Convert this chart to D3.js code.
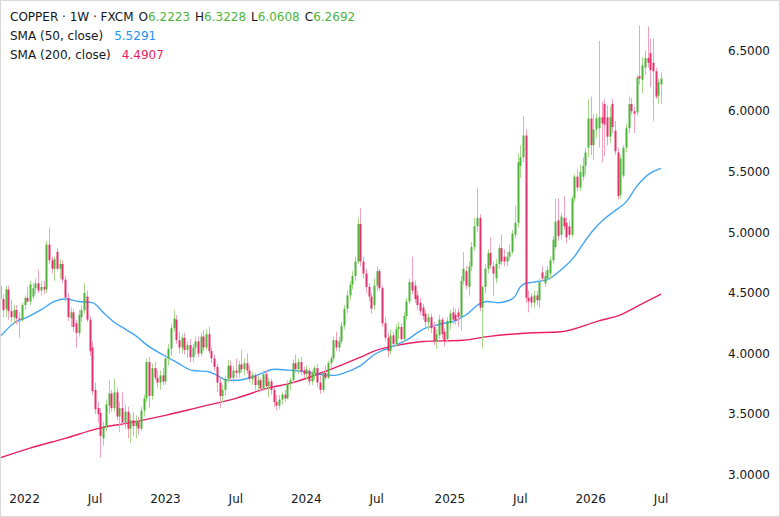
<!DOCTYPE html>
<html><head><meta charset="utf-8">
<script src="https://cdn.jsdelivr.net/npm/d3@7"></script>
<style>body{margin:0;background:#fff}svg{display:block}text{font-family:"DejaVu Sans",sans-serif}</style>
</head><body><svg id="c" width="780" height="517"></svg>
<script>
// ---- DATA ----
const startDate = "2021-11-01"; // first weekly bar (Mondays)
const opens = [4.56,4.45,4.37,4.53,4.35,4.30,4.36,4.29,4.28,4.40,4.46,4.43,4.47,4.54,4.58,4.52,4.55,4.53,4.90,4.77,
4.70,4.84,4.70,4.74,4.61,4.46,4.29,4.34,4.25,4.17,4.30,4.36,4.47,4.28,4.05,3.70,3.55,3.51,3.30,3.40,
3.57,3.67,3.55,3.68,3.48,3.55,3.43,3.52,3.38,3.45,3.40,3.44,3.38,3.53,3.63,3.93,3.65,3.88,3.80,3.76,
3.82,3.77,3.96,4.04,4.21,4.28,4.11,4.05,4.13,4.03,4.07,3.97,4.05,4.10,4.00,4.14,4.05,4.16,4.02,3.96,
3.89,3.76,3.65,3.70,3.79,3.90,3.80,3.86,3.84,3.91,3.87,3.92,3.86,3.79,3.82,3.74,3.78,3.71,3.83,3.73,
3.77,3.70,3.60,3.57,3.62,3.66,3.63,3.75,3.78,3.92,3.87,3.93,3.86,3.83,3.86,3.77,3.84,3.88,3.76,3.70,
3.84,3.80,3.92,3.96,4.11,4.05,4.10,4.23,4.37,4.48,4.57,4.64,4.76,5.07,4.76,4.66,4.55,4.47,4.40,4.56,
4.68,4.54,4.25,4.13,4.02,4.15,4.08,4.20,4.22,4.12,4.31,4.43,4.59,4.56,4.48,4.42,4.38,4.33,4.26,4.30,
4.22,4.10,4.15,4.28,4.18,4.12,4.25,4.34,4.32,4.34,4.30,4.60,4.68,4.55,4.72,4.88,5.05,5.12,4.38,4.55,
4.70,4.83,4.72,4.62,4.74,4.87,4.80,4.76,4.80,4.84,4.98,5.08,5.55,5.62,5.80,4.46,4.47,4.42,4.48,4.44,
4.67,4.58,4.62,4.66,4.77,4.88,5.10,4.98,5.12,5.08,5.05,4.98,5.28,5.46,5.37,5.46,5.55,5.70,5.94,5.72,
5.85,5.86,5.95,6.06,5.95,5.79,6.06,5.84,5.66,5.31,5.47,5.70,5.86,6.06,6.00,5.99,6.29,6.26,6.36,6.44,
6.48,6.40,6.33,6.13,6.2223];
const highs = [4.60,4.49,4.56,4.56,4.44,4.40,4.40,4.34,4.42,4.48,4.55,4.60,4.58,4.62,4.69,4.60,4.60,4.93,5.04,4.80,
4.80,4.87,4.78,4.77,4.64,4.50,4.38,4.37,4.28,4.36,4.40,4.58,4.52,4.31,4.10,3.76,3.60,3.55,3.44,3.62,
3.78,3.70,3.79,3.72,3.60,3.68,3.58,3.56,3.50,3.52,3.49,3.48,3.56,3.66,3.96,3.97,3.92,3.93,3.86,3.86,
3.88,4.00,4.08,4.24,4.36,4.32,4.18,4.16,4.17,4.10,4.12,4.08,4.14,4.14,4.17,4.19,4.20,4.22,4.05,3.99,
3.92,3.80,3.74,3.82,3.95,3.94,3.90,3.96,3.94,4.03,3.96,4.00,3.90,3.85,3.84,3.82,3.80,3.86,3.86,3.80,
3.79,3.72,3.66,3.66,3.68,3.70,3.78,3.80,3.95,3.99,3.96,3.97,3.89,3.90,3.88,3.86,3.90,3.91,3.82,3.86,
3.90,3.94,3.98,4.14,4.18,4.14,4.26,4.40,4.52,4.60,4.68,4.80,5.12,5.20,4.80,4.70,4.58,4.50,4.62,4.72,
4.70,4.56,4.30,4.17,4.20,4.18,4.24,4.26,4.25,4.34,4.46,4.62,4.80,4.60,4.52,4.46,4.41,4.36,4.33,4.33,
4.26,4.20,4.32,4.30,4.21,4.30,4.36,4.38,4.37,4.38,4.64,4.84,4.72,4.76,4.92,5.12,5.37,5.15,4.56,4.74,
4.86,4.96,4.76,4.78,4.90,4.98,4.86,4.84,4.90,5.02,5.22,5.65,5.72,5.96,5.85,4.52,4.50,4.52,4.52,4.62,
4.72,4.68,4.72,4.80,4.97,5.28,5.28,5.16,5.30,5.12,5.10,5.30,5.48,5.52,5.56,5.62,5.70,6.10,6.12,5.98,
5.98,6.58,6.08,6.10,6.05,6.04,6.10,5.92,5.70,5.64,5.72,5.90,6.12,6.11,6.04,6.30,6.71,6.45,6.50,6.70,
6.60,6.60,6.36,6.27,6.3228];
const lows = [4.42,4.30,4.30,4.28,4.26,4.25,4.24,4.13,4.26,4.36,4.42,4.40,4.45,4.49,4.50,4.48,4.49,4.50,4.74,4.66,
4.60,4.68,4.62,4.58,4.43,4.27,4.22,4.18,4.05,4.14,4.26,4.33,4.26,3.98,3.66,3.50,3.43,3.14,3.24,3.36,
3.50,3.52,3.52,3.45,3.35,3.40,3.38,3.30,3.26,3.32,3.30,3.33,3.36,3.48,3.60,3.55,3.62,3.78,3.72,3.70,
3.74,3.74,3.90,3.98,4.18,4.08,4.00,4.00,3.99,3.96,3.93,3.93,3.99,3.97,3.98,4.02,4.03,4.00,3.92,3.86,
3.68,3.55,3.60,3.65,3.76,3.78,3.76,3.80,3.80,3.84,3.82,3.83,3.76,3.74,3.70,3.70,3.68,3.69,3.70,3.64,
3.66,3.56,3.53,3.54,3.58,3.60,3.62,3.70,3.76,3.84,3.83,3.82,3.80,3.78,3.74,3.74,3.78,3.72,3.67,3.68,
3.78,3.79,3.88,3.94,4.02,4.01,4.08,4.20,4.33,4.44,4.53,4.60,4.74,4.72,4.62,4.50,4.43,4.33,4.36,4.52,
4.52,4.22,4.10,3.97,3.99,4.05,4.06,4.12,4.10,4.10,4.28,4.41,4.49,4.42,4.36,4.32,4.28,4.22,4.19,4.17,
4.07,4.04,4.12,4.12,4.06,4.10,4.20,4.24,4.24,4.22,4.19,4.57,4.53,4.47,4.68,4.85,5.00,4.35,4.04,4.50,
4.66,4.70,4.48,4.58,4.70,4.73,4.72,4.72,4.77,4.82,4.95,5.04,5.45,5.58,4.42,4.34,4.38,4.38,4.40,4.38,
4.60,4.55,4.60,4.62,4.74,4.86,4.93,4.94,5.02,4.91,4.94,4.96,5.25,5.34,5.34,5.43,5.48,5.62,5.64,5.60,
5.78,5.70,5.58,5.63,5.72,5.74,5.82,5.64,5.27,5.28,5.45,5.66,5.82,5.97,5.82,5.96,6.22,6.15,6.30,6.36,
6.20,5.92,6.10,6.06,6.0608];
const closes = [4.45,4.36,4.53,4.35,4.30,4.36,4.29,4.28,4.40,4.46,4.43,4.57,4.54,4.58,4.52,4.55,4.53,4.90,4.77,4.70,
4.78,4.70,4.74,4.61,4.46,4.30,4.34,4.22,4.17,4.32,4.36,4.50,4.28,4.02,3.69,3.54,3.50,3.32,3.40,3.58,
3.67,3.55,3.68,3.48,3.55,3.43,3.52,3.38,3.45,3.40,3.44,3.38,3.53,3.63,3.93,3.65,3.88,3.80,3.76,3.82,
3.77,3.96,4.04,4.21,4.29,4.11,4.05,4.13,4.03,4.07,3.97,4.05,4.10,4.00,4.14,4.05,4.16,4.02,3.96,3.89,
3.76,3.65,3.70,3.79,3.90,3.80,3.86,3.84,3.91,3.87,3.92,3.86,3.79,3.82,3.74,3.78,3.71,3.83,3.73,3.77,
3.70,3.60,3.57,3.62,3.66,3.63,3.75,3.78,3.92,3.87,3.93,3.85,3.83,3.87,3.77,3.84,3.88,3.76,3.70,3.84,
3.80,3.92,3.96,4.11,4.05,4.10,4.23,4.37,4.48,4.57,4.64,4.76,5.07,4.76,4.66,4.55,4.47,4.37,4.56,4.68,
4.54,4.25,4.13,4.02,4.15,4.08,4.20,4.22,4.12,4.31,4.43,4.59,4.52,4.45,4.40,4.35,4.31,4.26,4.30,4.21,
4.10,4.16,4.28,4.16,4.10,4.27,4.33,4.28,4.27,4.30,4.60,4.70,4.56,4.72,4.88,5.05,5.12,4.38,4.55,4.70,
4.83,4.73,4.66,4.74,4.87,4.76,4.76,4.80,4.84,4.99,5.08,5.58,5.62,5.80,4.46,4.43,4.42,4.48,4.44,4.59,
4.62,4.64,4.69,4.77,4.94,5.09,4.97,5.13,5.05,4.96,4.98,5.28,5.46,5.37,5.50,5.55,5.66,5.94,5.72,5.85,
5.94,5.95,5.90,5.89,5.79,5.95,5.87,5.67,5.30,5.61,5.70,5.86,6.06,6.00,5.98,6.28,6.27,6.38,6.44,6.40,
6.34,6.33,6.12,6.24,6.2692];
// moving averages (bar index -> value)
const sma50Bars = [0,5,10,15,20,24,29,34,38,42,47,51,53,60,65,71,77,80,84,88,92,97,101,108,113,117,123,127,133,138,144,150,156,162,169,172,177,180,184,188,190,192,194,197,202,207,212,215,219,223,227,231,235,240,244];
const sma50Vals = [4.14,4.25,4.30,4.36,4.43,4.45,4.43,4.42,4.34,4.26,4.19,4.13,4.09,3.99,3.93,3.86,3.85,3.82,3.78,3.78,3.80,3.84,3.87,3.86,3.85,3.83,3.82,3.84,3.90,3.99,4.05,4.11,4.20,4.24,4.28,4.32,4.41,4.43,4.42,4.44,4.47,4.55,4.58,4.59,4.61,4.69,4.80,4.90,5.02,5.11,5.18,5.25,5.38,5.49,5.5291];
const sma200Bars = [0,11,24,36,48,61,74,87,98,108,122,133,138,147,156,171,180,195,207,221,229,236,244];
const sma200Vals = [3.14,3.22,3.30,3.38,3.43,3.49,3.56,3.63,3.71,3.76,3.87,3.97,4.02,4.07,4.10,4.11,4.14,4.17,4.18,4.27,4.32,4.40,4.4907];
const priceTicks = [3.0,3.5,4.0,4.5,5.0,5.5,6.0,6.5];
const timeTickMonths = ["2022-01","2022-07","2023-01","2023-07","2024-01","2024-07","2025-01","2025-07","2026-01","2026-07"];
const timeTickLabels = ["2022","Jul","2023","Jul","2024","Jul","2025","Jul","2026","Jul"];
const legendTitle = "COPPER · 1W · FXCM";
const legendSma50 = "SMA (50, close)";
const legendSma200 = "SMA (200, close)";

// ---- DRAW ----
const W = 780, H = 517;
const GREEN = "#4fb53a", GREEN_W = "#a6d98c", PINK = "#e8306c", PINK_W = "#f3a2bd";
const BLUE = "#42a5f5", MAGENTA = "#e91e63", TXT = "#131722";
const n = closes.length;
const bars = d3.range(n).map(i => ({i, o: opens[i], h: highs[i], l: lows[i], c: closes[i],
  d: d3.timeWeek.offset(d3.timeParse("%Y-%m-%d")(startDate), i)}));
const svg = d3.select("#c");
svg.append("rect").attr("x", 0.5).attr("y", 0.5).attr("width", W - 1).attr("height", H - 1)
  .attr("fill", "#fff").attr("stroke", "#d9d9d9");
svg.append("defs").append("clipPath").attr("id", "clip").append("rect")
  .attr("x", 1).attr("y", 1).attr("width", 700).attr("height", 480);

const x = d3.scaleLinear().domain([0, n - 1]).range([0.2, 661.1]);
const y = d3.scaleLinear().domain([3.0, 6.5]).range([474.7, 50.7]);

const plot = svg.append("g").attr("clip-path", "url(#clip)");
const line = d3.line().x(d => x(d[0])).y(d => y(d[1])).curve(d3.curveMonotoneX);
plot.append("path").datum(sma200Bars.map((b, k) => [b, sma200Vals[k]]))
  .attr("d", line).attr("fill", "none").attr("stroke", MAGENTA).attr("stroke-width", 1.4);
plot.append("path").datum(sma50Bars.map((b, k) => [b, sma50Vals[k]]))
  .attr("d", line).attr("fill", "none").attr("stroke", BLUE).attr("stroke-width", 1.4);

const cg = plot.append("g");
cg.selectAll("line.w").data(bars).join("line").attr("class", "w")
  .attr("x1", d => Math.round(x(d.i)) + 0.5).attr("x2", d => Math.round(x(d.i)) + 0.5)
  .attr("y1", d => y(d.h)).attr("y2", d => y(d.l))
  .attr("stroke", d => d.c >= d.o ? GREEN_W : PINK_W).attr("stroke-width", 1);
cg.selectAll("rect.b").data(bars).join("rect").attr("class", "b")
  .attr("x", d => Math.round(x(d.i)) - 0.5).attr("width", 2)
  .attr("y", d => y(Math.max(d.o, d.c)))
  .attr("height", d => Math.max(1, Math.abs(y(d.o) - y(d.c))))
  .attr("fill", d => d.c >= d.o ? GREEN : PINK);

svg.append("g").selectAll("text").data(priceTicks).join("text")
  .attr("x", 770).attr("y", d => y(d)).attr("dy", "0.35em").attr("text-anchor", "end")
  .attr("font-size", 12).attr("fill", TXT).text(d => d3.format(".4f")(d));

const fmtM = d3.timeFormat("%Y-%m");
const tickIdx = timeTickMonths.map(m => bars.find(b => fmtM(b.d) === m).i);
svg.append("g").selectAll("text").data(tickIdx).join("text")
  .attr("x", d => x(d)).attr("y", 499).attr("dy", "0.35em").attr("text-anchor", "middle")
  .attr("font-size", 12).attr("fill", TXT).text((d, k) => timeTickLabels[k]);

const last = bars[n - 1];
const valCol = last.c >= last.o ? GREEN : PINK;
const lg = svg.append("g").attr("font-size", 12).attr("fill", TXT);
const t1 = lg.append("text").attr("x", 10).attr("y", 21);
t1.append("tspan").text(legendTitle);
[["O", last.o], ["H", last.h], ["L", last.l], ["C", last.c]].forEach(([k, v]) => {
  t1.append("tspan").attr("dx", 5).text(k);
  t1.append("tspan").attr("fill", valCol).text(d3.format(".4f")(v));
});
const t2 = lg.append("text").attr("x", 10).attr("y", 40);
t2.append("tspan").text(legendSma50);
t2.append("tspan").attr("dx", 11).attr("fill", "#2196f3").text(d3.format(".4f")(sma50Vals[sma50Vals.length - 1]));
const t3 = lg.append("text").attr("x", 10).attr("y", 58.5);
t3.append("tspan").text(legendSma200);
t3.append("tspan").attr("dx", 11).attr("fill", MAGENTA).text(d3.format(".4f")(sma200Vals[sma200Vals.length - 1]));
</script></body></html>
